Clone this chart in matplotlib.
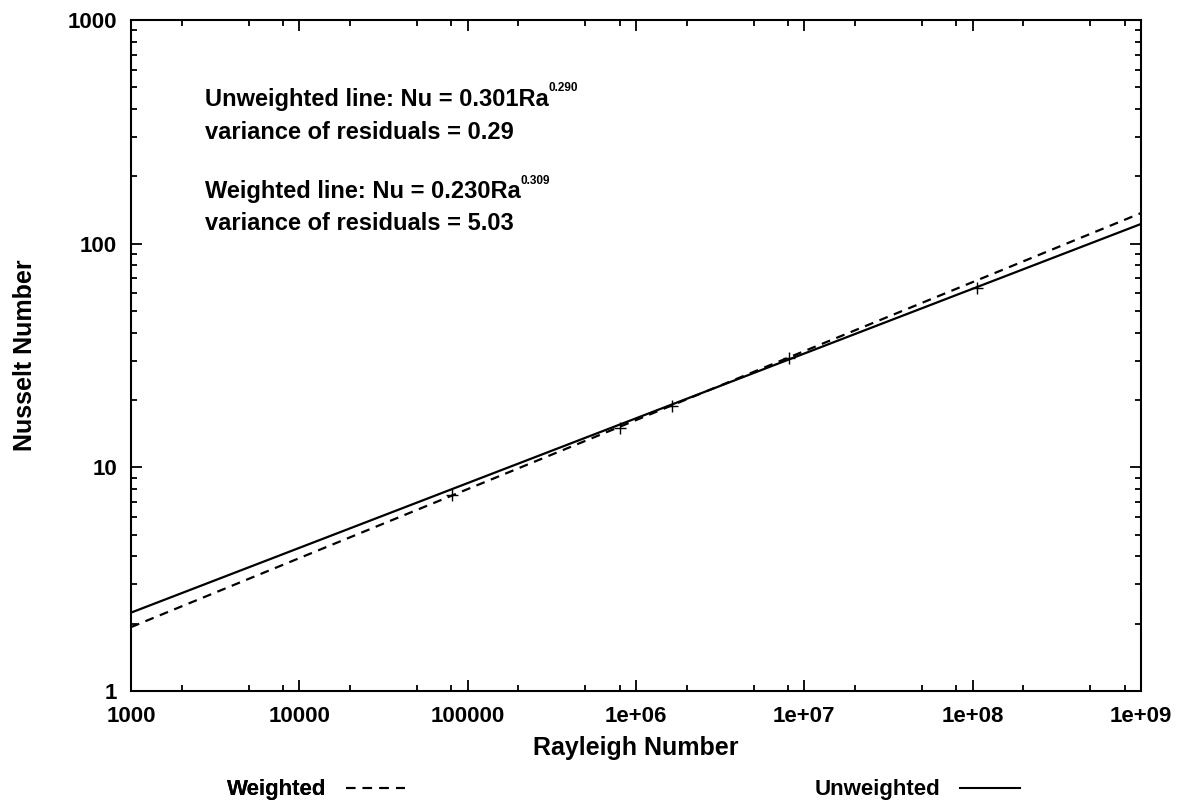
import numpy as np
import matplotlib
matplotlib.use("Agg")
import matplotlib.pyplot as plt
from matplotlib.ticker import LogLocator, NullFormatter, FixedLocator
from matplotlib.lines import Line2D

plt.rcParams["font.family"] = ["Liberation Sans", "DejaVu Sans"]
plt.rcParams["font.weight"] = "bold"
plt.rcParams["axes.labelweight"] = "bold"

# measured points (Rayleigh, Nusselt)
ra_points = [8.1e4, 8.0e5, 1.64e6, 8.15e6, 1.06e8]
nu_points = [7.5, 15.0, 18.8, 30.8, 63.3]

# fitted lines, read at the plot edges
ra_fit = [1e3, 1e9]
nu_unweighted = [2.24, 122.5]
nu_weighted = [1.93, 137.0]

x_ticks = [1e3, 1e4, 1e5, 1e6, 1e7, 1e8, 1e9]
x_tick_labels = ["1000", "10000", "100000", "1e+06", "1e+07", "1e+08", "1e+09"]
y_ticks = [1, 10, 100, 1000]
y_tick_labels = ["1", "10", "100", "1000"]

fig = plt.figure(figsize=(11.79, 8.06), dpi=100)
ax = fig.add_axes([0.1111, 0.1427, 0.8567, 0.8325])

dash = (0, (4, 3))
ax.plot(ra_fit, nu_weighted, color="black", lw=1.6, linestyle=dash)
ax.plot(ra_fit, nu_unweighted, color="black", lw=1.6)
ax.plot(ra_points, nu_points, linestyle="none", marker="+", color="black",
        markersize=9, markeredgewidth=1.0)

ax.set_xscale("log")
ax.set_yscale("log")
ax.set_xlim(1e3, 1e9)
ax.set_ylim(1, 1000)

ax.xaxis.set_major_locator(FixedLocator(x_ticks))
ax.set_xticklabels(x_tick_labels)
ax.yaxis.set_major_locator(FixedLocator(y_ticks))
ax.set_yticklabels(y_tick_labels)
ax.xaxis.set_minor_locator(LogLocator(base=10, subs=(2.0, 5.0, 8.0), numticks=20))
ax.yaxis.set_minor_locator(LogLocator(base=10, subs=np.arange(2, 10), numticks=20))
ax.xaxis.set_minor_formatter(NullFormatter())
ax.yaxis.set_minor_formatter(NullFormatter())

ax.tick_params(which="both", direction="in", top=True, right=True,
               width=1.3, labelsize=16)
ax.tick_params(which="major", length=8)
ax.tick_params(axis="x", which="major", pad=11)
ax.tick_params(axis="y", which="major", pad=10)
ax.tick_params(which="minor", length=4)
for s in ax.spines.values():
    s.set_linewidth(1.5)

ax.set_xlabel("Rayleigh Number", fontsize=18, labelpad=6)
ax.set_ylabel("Nusselt Number", fontsize=18, labelpad=22)

# fit annotations
tx = 0.073
t1 = ax.text(tx, 0.882, "Unweighted line: Nu = 0.301Ra", transform=ax.transAxes,
             fontsize=17, va="center")
ax.annotate("0.290", xy=(1.0, 0.72), xycoords=t1, fontsize=8.5, va="bottom")
ax.text(tx, 0.833, "variance of residuals = 0.29", transform=ax.transAxes,
        fontsize=17, va="center")
t2 = ax.text(tx, 0.744, "Weighted line: Nu = 0.230Ra", transform=ax.transAxes,
             fontsize=17, va="center")
ax.annotate("0.309", xy=(1.0, 0.72), xycoords=t2, fontsize=8.5, va="bottom")
ax.text(tx, 0.696, "variance of residuals = 5.03", transform=ax.transAxes,
        fontsize=17, va="center")

# key below the plot
h_w = Line2D([], [], color="black", lw=1.5, linestyle=(0, (4.5, 3.5)))
h_u = Line2D([], [], color="black", lw=1.5)
leg1 = fig.legend([h_w], ["Weighted"], loc="center", bbox_to_anchor=(0.268, 0.02),
                  frameon=False, markerfirst=False, fontsize=16, handlelength=2.67,
                  handletextpad=0.9)
fig.add_artist(leg1)
fig.legend([h_u], ["Unweighted"], loc="center", bbox_to_anchor=(0.778, 0.02),
           frameon=False, markerfirst=False, fontsize=16, handlelength=2.7,
           handletextpad=0.9)

fig.savefig("out.png", dpi=100)
